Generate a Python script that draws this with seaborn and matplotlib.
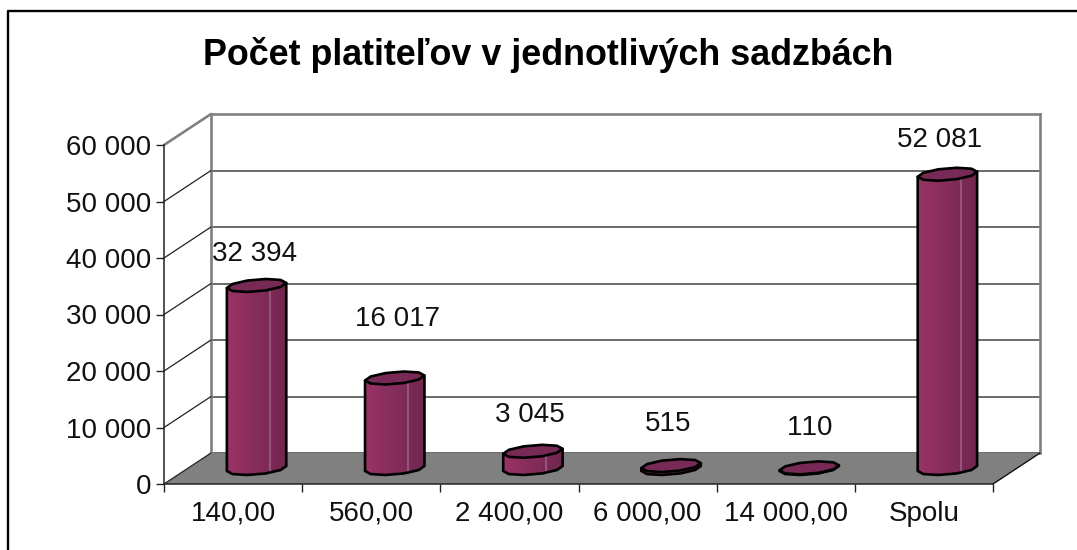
import numpy as np
import matplotlib
matplotlib.use('Agg')
import matplotlib.pyplot as plt
import seaborn as sns
from matplotlib.patches import Polygon
from matplotlib.lines import Line2D
from matplotlib.transforms import IdentityTransform

sns.set_style('white')
plt.rcParams['font.family'] = ['Liberation Sans', 'DejaVu Sans']
plt.rcParams['text.kerning_factor'] = 6

categories = ['140,00', '560,00', '2 400,00', '6 000,00', '14 000,00', 'Spolu']
values = [32394, 16017, 3045, 515, 110, 52081]
value_labels = ['32 394', '16 017', '3 045', '515', '110', '52 081']
y_ticks = [0, 10000, 20000, 30000, 40000, 50000, 60000]
y_tick_labels = ['0', '10 000', '20 000', '30 000', '40 000', '50 000', '60 000']

W, H = 1077, 550
DEPTH_X, DEPTH_Y = 47, 31   # depth of the fake 3d box, px
# label nudges from the top of each bar, px (excel placed them by hand)
label_nudge = [(-2, 31), (3, 59), (-3, 36), (-3, 42), (1, 40), (-8, 34)]


def px_axes(left, top, right, bottom):
    return fig.add_axes([left / W, 1 - bottom / H, (right - left) / W, (bottom - top) / H])


fig = plt.figure(figsize=(W / 100, H / 100), dpi=100, facecolor='white')

# outline of the chart area, only top and left are on the picture
fig.add_artist(Line2D([8 / W, 8 / W, 1], [0, 1 - 11 / H, 1 - 11 / H], color='black', lw=1.7))
fig.text(548.5 / W, 1 - 55 / H, 'Počet platiteľov v jednotlivých sadzbách',
         ha='center', va='center', fontsize=25.8, fontweight='bold', color='black')

# back wall
ax_back = px_axes(164 + DEPTH_X, 145 - DEPTH_Y, 993 + DEPTH_X, 484 - DEPTH_Y)
ax_back.set_ylim(0, 60000)
ax_back.set_xlim(-0.5, 5.5)
ax_back.set_yticks(y_ticks)
ax_back.set_xticks([])
ax_back.set_yticklabels([])
ax_back.grid(axis='y', color='#5f5f5f', lw=1.3)
ax_back.set_axisbelow(True)
for s in ['left', 'right', 'top']:
    ax_back.spines[s].set_color('#808080')
    ax_back.spines[s].set_linewidth(1.9)
ax_back.spines['bottom'].set_visible(False)
ax_back.set_zorder(1)

# front axes, carries the ticks and the floor
ax = px_axes(164, 145, 993, 484)
ax.set_ylim(0, 60000)
ax.set_xlim(-0.5, 5.5)
ax.patch.set_visible(False)
ax.set_zorder(2)
ax.set_yticks(y_ticks)
ax.set_yticklabels(y_tick_labels, fontsize=20, color='#111111')
ax.set_xticks(np.arange(-0.5, 6, 1))
ax.set_xticklabels([])
ax.set_xticks(np.arange(0, 6, 1), labels=categories, minor=True, fontsize=20, color='#111111')
ax.tick_params(axis='y', length=6, width=1, color='#222222', pad=3, left=True)
ax.tick_params(axis='x', which='major', length=6, width=1, color='#222222', bottom=True)
ax.tick_params(axis='x', which='minor', length=0, pad=12)
for s in ['top', 'right']:
    ax.spines[s].set_visible(False)
for s in ['left', 'bottom']:
    ax.spines[s].set_color('#222222')
    ax.spines[s].set_linewidth(1.1)

x0, x1 = -0.5, 5.5
p00 = ax.transData.transform((x0, 0))
p10 = ax.transData.transform((x1, 0))
off = np.array([DEPTH_X, DEPTH_Y])
ax.add_patch(Polygon([p00, p10, p10 + off, p00 + off], closed=True, transform=IdentityTransform(),
                     facecolor='#808080', edgecolor='none', zorder=1, clip_on=False))
ax.add_line(Line2D([p10[0], p10[0] + DEPTH_X], [p10[1], p10[1] + DEPTH_Y], color='#111111', lw=1,
                   transform=IdentityTransform(), zorder=2, clip_on=False))
for t in y_ticks:
    p = ax.transData.transform((x0, t))
    top = t == y_ticks[-1]
    ax.add_line(Line2D([p[0], p[0] + DEPTH_X], [p[1], p[1] + DEPTH_Y], transform=IdentityTransform(),
                       color='#808080' if top else '#222222', lw=1.9 if top else 0.9, zorder=2,
                       clip_on=False))

# bars stand half way into the box, axes goes a bit lower so the round foot is not cut
per_px = 60000 / 339
FOOT = 25
ax_bars = px_axes(164 + DEPTH_X / 2, 145 - DEPTH_Y / 2, 993 + DEPTH_X / 2, 484 - DEPTH_Y / 2 + FOOT)
sns.barplot(x=categories, y=values, ax=ax_bars, color='#8a2f5f', saturation=1, width=0.43)
ax_bars.set_ylim(-FOOT * per_px, 60000)
ax_bars.set_xlim(-0.5, 5.5)
ax_bars.axis('off')
ax_bars.set_zorder(3)

# cylinder shading, left to right, with the thin light seam excel leaves
shade = np.linspace([0.60, 0.20, 0.40], [0.44, 0.15, 0.31], 44)[None, :, :]
shade[0, 31] = [0.58, 0.34, 0.48]
ang = np.radians(np.arange(0, 360, 36))
tilt_px = 2.5

for bar, lab, (nx, ny) in zip(ax_bars.patches, value_labels, label_nudge):
    bx, w, h = bar.get_x(), bar.get_width(), bar.get_height()
    cx = bx + w / 2
    bar.set_visible(False)
    ex = cx + w / 2 * np.cos(ang)
    ey = (6 * np.sin(ang) + tilt_px * np.cos(ang)) * per_px
    t = tilt_px * per_px
    front = np.sin(ang) < 0
    order = np.argsort(ex[front])
    low_x, low_y = ex[front][order], ey[front][order]
    body = np.vstack([[[bx, h - t]], [[bx, -t]], np.column_stack([low_x, low_y]),
                      [[bx + w, t]], [[bx + w, h + t]]])
    body_poly = Polygon(body, closed=True, facecolor='none', edgecolor='black', lw=1.9,
                        joinstyle='round', clip_on=False, zorder=3)
    ax_bars.add_patch(body_poly)
    im = ax_bars.imshow(shade, extent=(bx, bx + w, -12 * per_px, h + 12 * per_px),
                        aspect='auto', interpolation='nearest', zorder=2)
    im.set_clip_path(body_poly)
    ax_bars.add_patch(Polygon(np.column_stack([ex, h + ey]), closed=True, facecolor='#772a55',
                              edgecolor='black', lw=1.9, joinstyle='round', clip_on=False, zorder=4))
    ax_bars.annotate(lab, (cx, h), xytext=(nx, ny), textcoords='offset pixels', ha='center',
                     va='center', fontsize=20, color='#111111', annotation_clip=False, zorder=5)

ax_bars.set_xlim(-0.5, 5.5)
ax_bars.set_ylim(-FOOT * per_px, 60000)
fig.savefig('out.png', dpi=100)
